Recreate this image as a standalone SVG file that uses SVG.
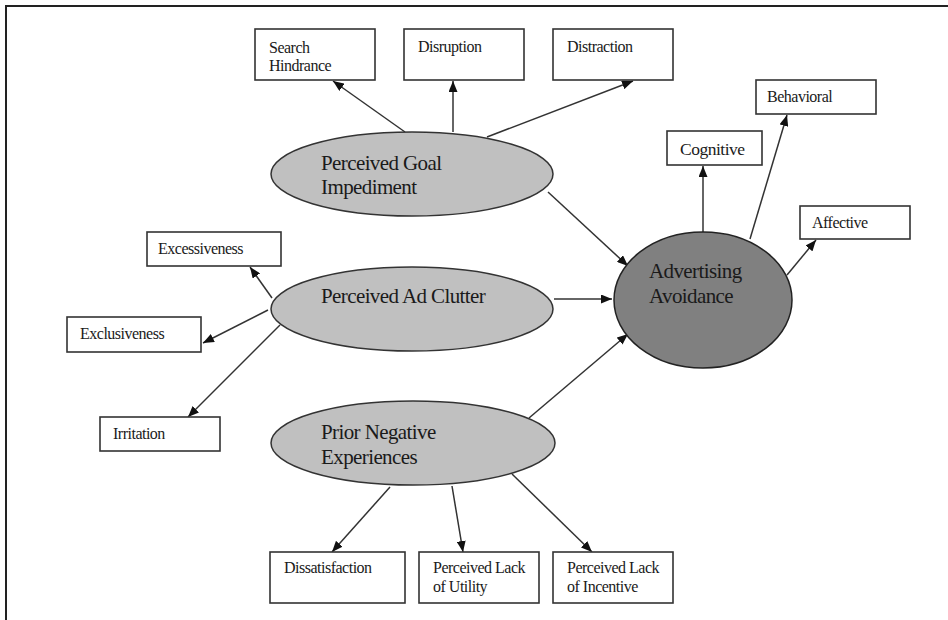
<svg xmlns="http://www.w3.org/2000/svg" width="948" height="620" viewBox="0 0 948 620">
<defs>
<marker id="arr" markerWidth="11" markerHeight="9" refX="11" refY="4.5" orient="auto" markerUnits="userSpaceOnUse">
<path d="M0,0 L11,4.5 L0,9 Z" fill="#111"/>
</marker>
<style>
.box{fill:#fff;stroke:#333;stroke-width:1.6}
.t{font-family:'Liberation Serif','DejaVu Serif',serif;font-size:16px;letter-spacing:-0.5px;fill:#1a1a1a}
.big{font-family:'Liberation Serif','DejaVu Serif',serif;font-size:21px;letter-spacing:-0.6px;fill:#1a1a1a}
.ell{fill:#c0c0c0;stroke:#333;stroke-width:1.5}
.dark{fill:#808080;stroke:#222;stroke-width:1.5}
.c line{stroke:#333;stroke-width:1.5;marker-end:url(#arr)}
</style>
</defs>
<rect width="948" height="620" fill="#fff"/>
<g id="frame" stroke="#222" stroke-width="2">
<line x1="5" y1="6" x2="948" y2="6"/>
<line x1="6" y1="5" x2="6" y2="620"/>
</g>
<g class="c" id="connectors">
<line x1="405" y1="132" x2="333" y2="81"/>
<line x1="453" y1="132" x2="453" y2="81"/>
<line x1="487" y1="137" x2="633" y2="81"/>
<line x1="548" y1="192" x2="628" y2="266"/>
<line x1="703" y1="232" x2="703" y2="166"/>
<line x1="750" y1="239" x2="787" y2="115"/>
<line x1="787" y1="275" x2="816" y2="240"/>
<line x1="554" y1="299" x2="612" y2="299"/>
<line x1="272" y1="298" x2="250" y2="267"/>
<line x1="268" y1="310" x2="203" y2="343"/>
<line x1="280" y1="325" x2="188" y2="417"/>
<line x1="529" y1="418" x2="628" y2="334"/>
<line x1="390" y1="487" x2="332" y2="552"/>
<line x1="452" y1="486" x2="463" y2="552"/>
<line x1="512" y1="474" x2="592" y2="552"/>
</g>
<g id="search-hindrance"><rect class="box" x="255" y="29" width="120" height="51"/><text class="t" x="269" y="53">Search</text><text class="t" x="269" y="71">Hindrance</text></g>
<g id="disruption"><rect class="box" x="404" y="29" width="120" height="51"/><text class="t" x="418" y="52">Disruption</text></g>
<g id="distraction"><rect class="box" x="553" y="29" width="120" height="51"/><text class="t" x="567" y="52">Distraction</text></g>
<g id="behavioral"><rect class="box" x="756" y="80" width="120" height="34"/><text class="t" x="767" y="102">Behavioral</text></g>
<g id="cognitive"><rect class="box" x="667" y="131" width="95" height="34"/><text class="t" x="680" y="155" style="font-size:17.5px">Cognitive</text></g>
<g id="affective"><rect class="box" x="800" y="206" width="110" height="33"/><text class="t" x="812" y="228">Affective</text></g>
<g id="excessiveness"><rect class="box" x="147" y="232" width="134" height="34"/><text class="t" x="158" y="254">Excessiveness</text></g>
<g id="exclusiveness"><rect class="box" x="67" y="317" width="134" height="35"/><text class="t" x="80" y="339">Exclusiveness</text></g>
<g id="irritation"><rect class="box" x="100" y="417" width="120" height="34"/><text class="t" x="113" y="439">Irritation</text></g>
<g id="dissatisfaction"><rect class="box" x="270" y="552" width="135" height="51"/><text class="t" x="284" y="573">Dissatisfaction</text></g>
<g id="lack-utility"><rect class="box" x="419" y="552" width="120" height="51"/><text class="t" x="433" y="573">Perceived Lack</text><text class="t" x="433" y="592">of Utility</text></g>
<g id="lack-incentive"><rect class="box" x="553" y="552" width="120" height="51"/><text class="t" x="567" y="573">Perceived Lack</text><text class="t" x="567" y="592">of Incentive</text></g>
<g id="goal-impediment"><ellipse class="ell" cx="412" cy="174" rx="141" ry="42"/><text class="big" x="321" y="170">Perceived Goal</text><text class="big" x="321" y="194">Impediment</text></g>
<g id="ad-clutter"><ellipse class="ell" cx="412" cy="309" rx="141" ry="42"/><text class="big" x="321" y="303">Perceived Ad Clutter</text></g>
<g id="prior-negative"><ellipse class="ell" cx="413" cy="443" rx="142" ry="42"/><text class="big" x="321" y="439">Prior Negative</text><text class="big" x="321" y="464">Experiences</text></g>
<g id="advertising-avoidance"><ellipse class="dark" cx="703" cy="300" rx="89" ry="68"/><text class="big" x="649" y="278">Advertising</text><text class="big" x="649" y="303">Avoidance</text></g>
</svg>
